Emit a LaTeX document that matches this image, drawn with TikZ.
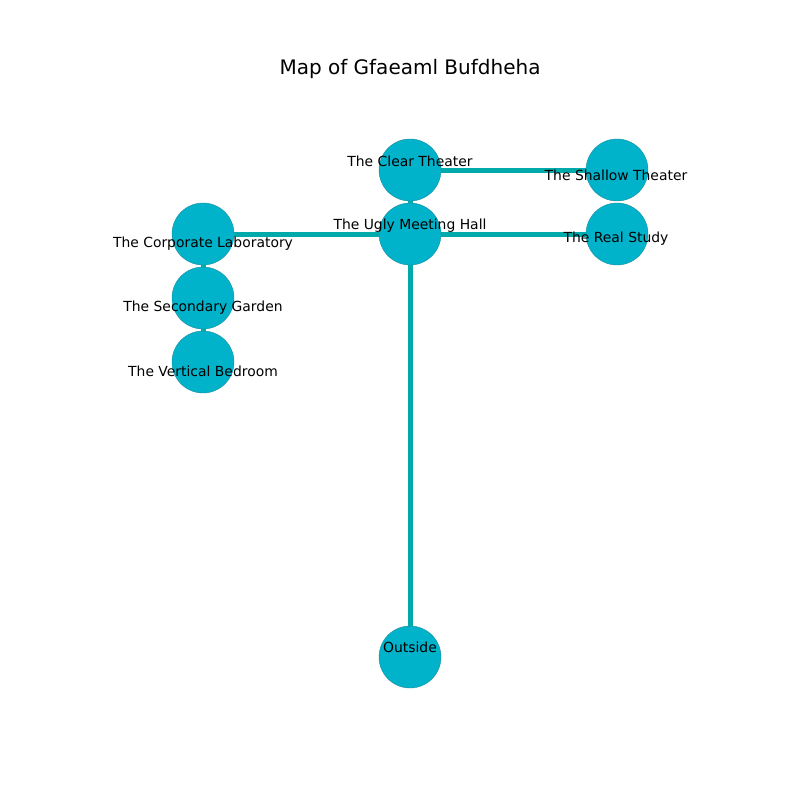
\documentclass[tikz,border=0pt]{standalone}
\usepackage{fontspec}
\setmainfont{DejaVu Sans}
\definecolor{roomfill}{HTML}{00B2CA}
\definecolor{roomedge}{HTML}{1A8C9C}
\definecolor{corridor}{HTML}{00AAAA}
\begin{document}
\begin{tikzpicture}[x=1pt,y=-1pt,
  room/.style={circle,fill=roomfill,draw=roomedge,line width=0.4pt,minimum size=62pt,inner sep=0pt},
  corr/.style={draw=corridor,line width=5pt},
  lbl/.style={font=\fontsize{13.9}{16}\selectfont,text=black,inner sep=0pt}]
\useasboundingbox (0,0) rectangle (800,800);
\node[font=\fontsize{20}{24}\selectfont] (title) at (410,69) {Map of Gfaeaml Bufdheha};
% rooms
\node[room] (clear) at (410,170) {};
\node[room] (shallow) at (617,170) {};
\node[room] (ugly) at (410,234) {};
\node[room] (real) at (617,234) {};
\node[room] (corp) at (203,234) {};
\node[room] (second) at (203,298) {};
\node[room] (vert) at (203,362) {};
\node[room] (out) at (410,657) {};
% corridors
\path[corr] (clear) -- (shallow);
\path[corr] (ugly) -- (real);
\path[corr] (ugly) -- (corp);
\path[corr] (ugly) -- (clear);
\path[corr] (ugly) -- (out);
\path[corr] (corp) -- (second);
\path[corr] (second) -- (vert);
% room labels
\node[lbl] (lclear) at (410,161) {The Clear Theater};
\node[lbl] (lshallow) at (616,175) {The Shallow Theater};
\node[lbl] (lugly) at (410,226) {The Ugly Meeting Hall};
\node[lbl] (lreal) at (616,239) {The Real Study};
\node[lbl] (lcorp) at (203,244) {The Corporate Laboratory};
\node[lbl] (lsecond) at (203,308) {The Secondary Garden};
\node[lbl] (lvert) at (203,371) {The Vertical Bedroom};
\node[lbl] (lout) at (410,647) {Outside};
\end{tikzpicture}
\end{document}
